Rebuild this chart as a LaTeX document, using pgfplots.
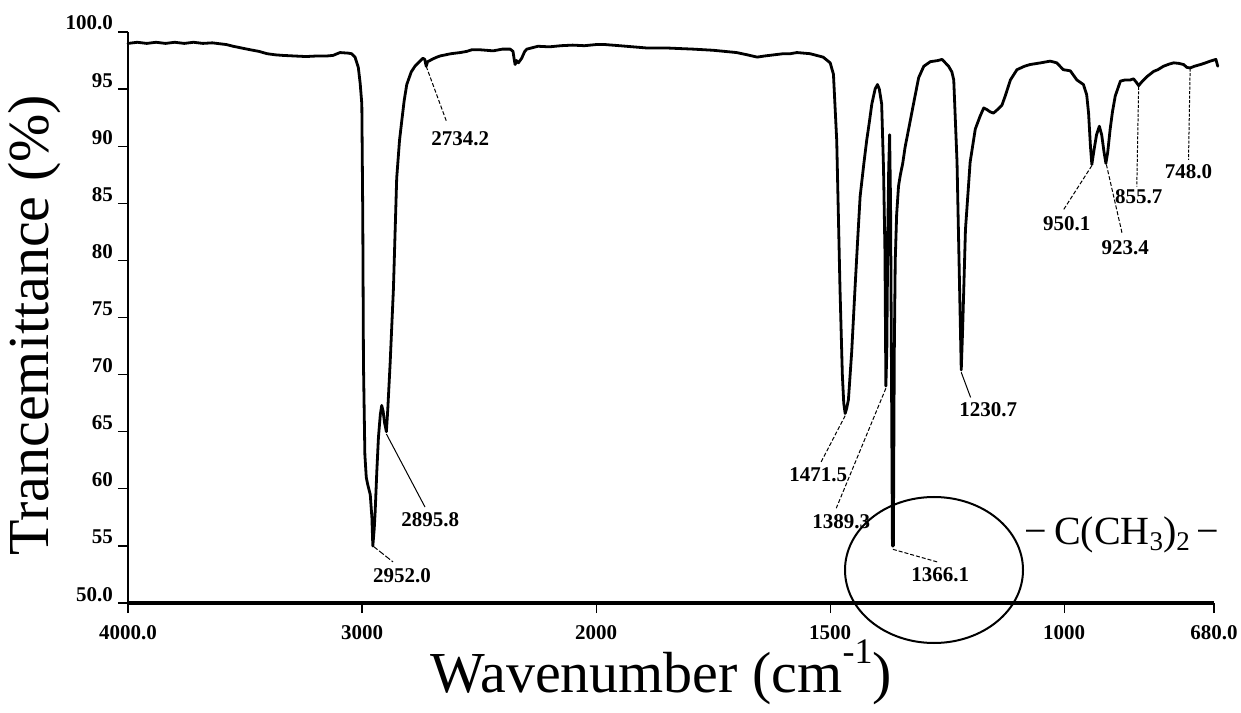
\documentclass[border=0pt]{standalone}
\usepackage{fontspec}
\setmainfont{Liberation Serif}
\usepackage{pgfplots}
\pgfplotsset{compat=1.18}
\usepackage{pgfplotstable}

\pgfplotstableread{
w T
4000 99.0
3960 99.1
3920 99.0
3880 99.1
3840 99.0
3800 99.1
3760 99.0
3720 99.1
3680 99.0
3640 99.05
3620 99.0
3580 98.9
3551 98.75
3515 98.6
3479 98.45
3440 98.3
3406 98.1
3370 98.0
3338 97.95
3290 97.9
3240 97.85
3192 97.9
3150 97.9
3124 97.95
3094 98.2
3060 98.15
3045 98.1
3030 97.8
3016 96.9
3008 95.5
3001 93.7
2997 84
2994 71
2988 63
2982 61
2975 60.3
2965 59.5
2958 57.5
2954 55.0
2948 56.5
2944 58
2937 61.5
2930 64.5
2922 66.5
2916 67.3
2910 66.8
2904 65.8
2896 65.0
2890 67
2880 71
2866 77.5
2852 87.2
2840 90.5
2831 92.1
2820 94
2809 95.4
2790 96.5
2774 97.0
2755 97.4
2740 97.7
2732 97.6
2726 97.0
2720 97.4
2710 97.5
2702 97.6
2680 97.8
2667 97.9
2620 98.1
2580 98.2
2553 98.3
2530 98.45
2500 98.45
2470 98.4
2440 98.35
2400 98.5
2367 98.5
2355 98.3
2350 97.6
2346 97.15
2340 97.5
2332 97.3
2318 97.7
2305 98.3
2296 98.5
2248 98.75
2200 98.7
2150 98.8
2100 98.85
2050 98.8
2000 98.9
1981 98.9
1950 98.8
1892 98.6
1850 98.6
1793 98.5
1750 98.4
1700 98.2
1677 98.0
1656 97.8
1640 97.9
1620 98.0
1600 98.1
1585 98.1
1571 98.2
1543 98.1
1515 97.8
1500 97.3
1493 96.3
1486 90.5
1479 77.5
1474 70
1471 67.5
1468 66.6
1465 67
1461 67.8
1454 72
1447 77.5
1441 82
1436 85.6
1428 88.5
1422 90.5
1416 92.2
1411 93.7
1404 95
1399 95.4
1395 95.0
1390 93.7
1386 88
1383 80.8
1381 69.0
1379 72
1377 82
1375 88
1373 91
1371 85
1369 70
1367 55.0
1365 55.0
1363 72
1361 80
1358 84
1354 86.5
1350 87.5
1345 88.5
1340 89.9
1330 92
1322 93.7
1311 96
1300 97
1286 97.4
1270 97.5
1261 97.6
1254 97.3
1247 97.0
1240 96.5
1236 95.8
1229 88.6
1222 74.5
1220 70.4
1217 74
1211 82.7
1201 88.6
1190 91.5
1180 92.6
1172 93.35
1165 93.2
1158 93.0
1151 92.9
1140 93.3
1133 93.6
1126 94.4
1115 95.8
1101 96.7
1085 97.0
1073 97.15
1050 97.3
1030 97.45
1016 97.3
1002 96.7
987 96.6
973 95.8
959 95.4
952 94.5
948 92.9
944 90.0
941 88.4
937 89.5
931 91.0
925 91.75
920 91.0
915 89.5
911 88.5
907 89.5
902 91.45
897 93
891 94.4
880 95.7
870 95.8
859 95.8
852 95.9
846 95.6
841 95.3
835 95.6
823 96.1
809 96.55
800 96.7
788 97.0
775 97.2
766 97.3
755 97.25
745 97.15
738 96.9
731 96.85
722 97.0
709 97.15
698 97.3
688 97.45
680 97.55
676 97.6
672 97.0
}\spectrum

\newcommand{\pk}{\fontsize{21}{24}\selectfont\bfseries}

\begin{document}
\begin{tikzpicture}
\useasboundingbox (-128pt,-109pt) rectangle (1113pt,603pt);
\begin{axis}[
  scale only axis,
  width=1086pt, height=571pt,
  xmin=0, xmax=4640, ymin=50, ymax=100,
  axis x line*=bottom, axis y line*=left,
  axis line style={-},
  x axis line style={line width=3.5pt},
  y axis line style={line width=2.5pt},
  tick align=outside,
  major tick length=10pt,
  tick style={black, line width=1.2pt},
  xtick={0,1000,2000,3000,4000,4640},
  xticklabels={4000.0,3000,2000,1500,1000,680.0},
  ytick={50,55,60,65,70,75,80,85,90,95,100},
  yticklabels={50.0,55,60,65,70,75,80,85,90,95,100.0},
  tick label style={font=\pk},
  yticklabel style={anchor=base east, inner sep=0pt, xshift=-5pt, yshift=2pt},
  xticklabel style={anchor=north, inner sep=0pt, yshift=-12pt},
  clip=false,
]
\addplot[black, line width=2.8pt, line join=round, line cap=round]
  table[x expr={max(4000-\thisrow{w},6000-2*\thisrow{w})}, y=T] {\spectrum};

% peak annotations
\draw[line width=1pt, dash pattern=on 4pt off 2pt] (axis cs:1274,97.0) -- (axis cs:1362,92.1);
\node[font=\pk] at (axis cs:1419,90.7) {2734.2};
\draw[line width=1pt] (axis cs:1104,64.8) -- (axis cs:1269,58.4);
\node[font=\pk] at (axis cs:1291,57.3) {2895.8};
\draw[line width=1pt, dash pattern=on 6pt off 2pt] (axis cs:1046,55) -- (axis cs:1132,53.6);
\node[font=\pk] at (axis cs:1171,52.4) {2952.0};
\draw[line width=1pt, dash pattern=on 4pt off 2pt] (axis cs:3064,66.4) -- (axis cs:2960,62.3);
\node[font=\pk] at (axis cs:2949,61.2) {1471.5};
\draw[line width=1pt, dash pattern=on 4pt off 2pt] (axis cs:3238,68.8) -- (axis cs:3026,58.3);
\node[font=\pk] at (axis cs:3047,57.1) {1389.3};
\draw[line width=1pt, dash pattern=on 4pt off 2pt] (axis cs:3268,54.7) -- (axis cs:3457,53.6);
\node[font=\pk] at (axis cs:3470,52.45) {1366.1};
\draw[line width=1pt] (axis cs:3560,70.2) -- (axis cs:3600,68.0);
\node[font=\pk] at (axis cs:3675,66.9) {1230.7};
\draw[line width=1pt, dash pattern=on 4pt off 2pt] (axis cs:4118,88.3) -- (axis cs:3996,84.4);
\node[font=\pk] at (axis cs:4011,83.25) {950.1};
\draw[line width=1pt, dash pattern=on 4pt off 2pt] (axis cs:4180,88.4) -- (axis cs:4247,82.4);
\node[font=\pk] at (axis cs:4261,81.1) {923.4};
\draw[line width=1pt, dash pattern=on 3pt off 1.5pt] (axis cs:4318,95.2) -- (axis cs:4310,86.45);
\node[font=\pk] at (axis cs:4318,85.6) {855.7};
\draw[line width=1pt, dash pattern=on 3pt off 1.5pt] (axis cs:4538,96.8) -- (axis cs:4531,88.8);
\node[font=\pk] at (axis cs:4531,87.8) {748.0};
\end{axis}

\draw[line width=2pt] (806pt,33pt) ellipse [x radius=89pt, y radius=73pt];
\node[font=\fontsize{40}{44}\selectfont] at (994pt,68pt) {−\,C(CH\raisebox{-0.15em}{\fontsize{27}{27}\selectfont 3})\raisebox{-0.15em}{\fontsize{27}{27}\selectfont 2}\,−};

\node[font=\fontsize{58}{62}\selectfont, rotate=90] at (-93pt,278pt) {Trancemittance (\%)};
\node[font=\fontsize{58}{62}\selectfont, anchor=base] at (533pt,-89pt) {Wavenumber (cm\raisebox{0.5em}{\fontsize{36}{36}\selectfont -1})};
\end{tikzpicture}
\end{document}
